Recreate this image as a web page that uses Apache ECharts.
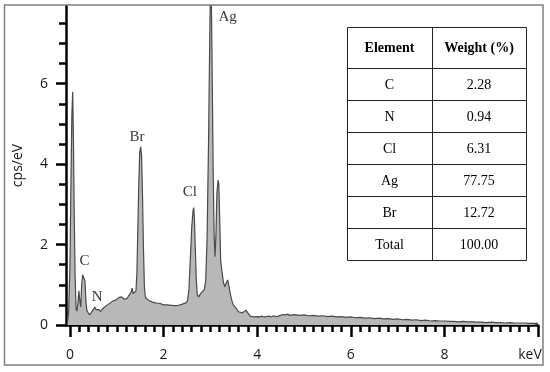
<!DOCTYPE html>
<html>
<head>
<meta charset="utf-8">
<script src="https://cdn.jsdelivr.net/npm/echarts@6/dist/echarts.min.js"></script>
<style>
html,body{margin:0;padding:0;background:#fff;}
#chart{width:550px;height:372px;}
</style>
</head>
<body>
<div id="chart"></div>
<script>
// ---- data ----
const keV = [
 -0.06,-0.03,0.0,0.02,0.04,0.058,0.075,0.09,0.11,0.13,0.15,0.17,0.19,0.21,0.23,0.25,0.27,0.30,0.32,0.34,
 0.36,0.39,0.42,0.45,0.48,0.51,0.53,0.56,0.59,0.62,0.65,0.68,0.71,0.74,0.77,0.80,0.83,0.86,0.89,0.92,
 0.95,0.98,1.01,1.04,1.07,1.10,1.13,1.16,1.19,1.22,1.25,1.28,1.31,1.33,1.35,1.38,1.41,1.43,1.45,1.47,
 1.49,1.51,1.53,1.55,1.57,1.59,1.61,1.64,1.67,1.70,1.73,1.76,1.79,1.82,1.85,1.88,1.91,1.94,1.97,2.00,
 2.04,2.08,2.12,2.16,2.20,2.24,2.28,2.32,2.36,2.40,2.44,2.48,2.51,2.54,2.57,2.60,2.63,2.645,2.66,2.68,
 2.70,2.72,2.75,2.79,2.83,2.87,2.90,2.93,2.96,2.99,3.01,3.03,3.06,3.08,3.10,3.12,3.14,3.165,3.18,3.20,
 3.22,3.25,3.28,3.31,3.34,3.37,3.40,3.43,3.46,3.49,3.52,3.56,3.60,3.64,3.68,3.72,3.76,3.80,3.85,3.90,
 3.95,4.00,4.05,4.10,4.15,4.20,4.25,4.30,4.35,4.40,4.45,4.50,4.55,4.60,4.65,4.70,4.75,
 4.8,4.9,5.0,5.1,5.2,5.3,5.4,5.5,5.6,5.7,5.8,5.9,6.0,6.1,6.2,6.3,6.4,6.5,6.6,6.7,6.8,6.9,7.0,7.1,7.2,
 7.3,7.4,7.5,7.6,7.7,7.8,7.9,8.0,8.1,8.2,8.3,8.4,8.5,8.6,8.7,8.8,8.9,9.0,9.1,9.2,9.3,9.4,9.5,9.6,9.7,
 9.8,9.9,10.0
];
const cps = [
 0,0.3,1.5,3.5,5.2,5.8,4.5,2.8,1.2,0.4,0.35,0.55,0.85,0.6,0.45,1.0,1.25,1.27,1.1,0.6,
 0.37,0.3,0.25,0.3,0.28,0.4,0.45,0.38,0.35,0.38,0.33,0.38,0.4,0.45,0.43,0.5,0.48,0.55,0.52,0.6,
 0.58,0.62,0.6,0.68,0.65,0.7,0.66,0.64,0.68,0.66,0.72,0.7,0.82,0.92,0.78,0.75,0.85,1.3,2.4,3.5,
 4.3,4.43,4.2,3.2,1.9,0.95,0.7,0.65,0.68,0.6,0.62,0.57,0.6,0.55,0.58,0.54,0.57,0.53,0.55,0.5,
 0.54,0.5,0.53,0.49,0.52,0.48,0.51,0.49,0.5,0.52,0.5,0.55,0.6,0.85,1.6,2.4,2.85,2.92,2.6,1.8,
 1.1,0.75,0.7,0.78,0.82,0.88,1.1,2.2,4.5,7.5,9.0,7.2,3.8,2.2,1.7,2.3,3.3,3.6,3.5,2.6,
 1.6,1.3,1.05,0.95,1.05,1.12,0.95,0.75,0.6,0.5,0.48,0.4,0.33,0.29,0.3,0.33,0.37,0.3,0.22,0.21,
 0.2,0.21,0.2,0.22,0.2,0.21,0.22,0.2,0.23,0.21,0.22,0.24,0.26,0.25,0.27,0.24,0.25,
 0.26,0.24,0.25,0.23,0.24,0.22,0.23,0.21,0.22,0.2,0.21,0.19,0.2,0.18,0.19,0.17,0.18,0.16,0.17,0.15,0.16,0.14,0.15,0.13,0.14,
 0.12,0.13,0.11,0.12,0.1,0.11,0.1,0.1,0.09,0.09,0.08,0.09,0.08,0.08,0.07,0.07,0.06,0.07,0.06,0.06,0.05,0.06,0.05,0.05,0.05,
 0.04,0.04,0.04
];
const peakNames = ['C', 'N', 'Br', 'Cl', 'Ag'];
const peakKeV   = [0.31, 0.58, 1.43, 2.56, 3.37];
const peakCps   = [1.59, 0.70, 4.67, 3.30, 7.65];

const xTickLabels = [0, 2, 4, 6, 8];
const xMajorTicks = [0, 2, 4, 6, 8, 10];
const yTickLabels = [0, 2, 4, 6];

const tableHeader   = ['Element', 'Weight (%)'];
const tableElements = ['C', 'N', 'Cl', 'Ag', 'Br', 'Total'];
const tableWeights  = ['2.28', '0.94', '6.31', '77.75', '12.72', '100.00'];

// ---- build ----
const xMinorTicks = [];
for (let i = 1; i < 50; i++) { if (i % 10 !== 0) xMinorTicks.push(+(i * 0.2).toFixed(1)); }
const yMinorTicks = [];
for (let i = 1; i <= 15; i++) { if (i % 4 !== 0) yMinorTicks.push(i * 0.5); }

const X_MIN = -0.085, X_MAX = 10, Y_MIN = 0, Y_MAX = 7.93;
const axisFont = 'Open Sans';
const serif = 'Liberation Serif';
const txt = '#1a1a1a';

function xAx(ticks, len, labels) {
  return {
    type: 'value', min: X_MIN, max: X_MAX, position: 'bottom',
    axisLine: { show: !!labels, onZero: false, lineStyle: { color: '#000', width: 2.5 } },
    axisTick: { show: true, customValues: ticks, length: len, lineStyle: { color: '#000', width: 2.5 } },
    axisLabel: labels ? { show: true, customValues: labels, margin: 23, fontSize: 14, color: txt, fontFamily: axisFont } : { show: false },
    splitLine: { show: false }
  };
}
function yAx(ticks, len, labels) {
  const a = {
    type: 'value', min: Y_MIN, max: Y_MAX, position: 'left',
    axisLine: { show: !!labels, onZero: false, lineStyle: { color: '#000', width: 2.5 } },
    axisTick: { show: true, customValues: ticks, length: len, lineStyle: { color: '#000', width: 2.5 } },
    axisLabel: labels ? { show: true, customValues: labels, margin: 18, fontSize: 14, color: txt, fontFamily: axisFont } : { show: false },
    splitLine: { show: false }
  };
  if (labels) {
    a.name = 'cps/eV';
    a.nameLocation = 'middle';
    a.nameGap = 41;
    a.nameTextStyle = { fontSize: 14, color: txt, fontFamily: axisFont };
  }
  return a;
}

// table graphics
const tLeft = 347, tTop = 27, colW = [85, 94], headH = 41, rowH = 32;
const tW = colW[0] + colW[1];
const tH = headH + rowH * tableElements.length;
const tableGraphics = [];
tableGraphics.push({ type: 'rect', shape: { x: tLeft + 0.5, y: tTop + 0.5, width: tW, height: tH }, style: { fill: '#fff', stroke: '#222', lineWidth: 1 }, z: 10 });
tableGraphics.push({ type: 'line', shape: { x1: tLeft + colW[0] + 0.5, y1: tTop, x2: tLeft + colW[0] + 0.5, y2: tTop + tH }, style: { stroke: '#222', lineWidth: 1 }, z: 11 });
for (let i = 0; i < tableElements.length; i++) {
  const y = tTop + headH + i * rowH + 0.5;
  tableGraphics.push({ type: 'line', shape: { x1: tLeft, y1: y, x2: tLeft + tW, y2: y }, style: { stroke: '#222', lineWidth: 1 }, z: 11 });
}
tableHeader.forEach((h, c) => {
  tableGraphics.push({ type: 'text', x: tLeft + (c === 0 ? colW[0] / 2 : colW[0] + colW[1] / 2), y: tTop + headH / 2 + 1,
    style: { text: h, fontFamily: serif, fontWeight: 'bold', fontSize: 14, fill: '#000', align: 'center', verticalAlign: 'middle' }, z: 12 });
});
tableElements.forEach((e, i) => {
  const cy = tTop + headH + i * rowH + rowH / 2 + 1;
  tableGraphics.push({ type: 'text', x: tLeft + colW[0] / 2, y: cy,
    style: { text: e, fontFamily: serif, fontSize: 14, fill: '#000', align: 'center', verticalAlign: 'middle' }, z: 12 });
  tableGraphics.push({ type: 'text', x: tLeft + colW[0] + colW[1] / 2, y: cy,
    style: { text: tableWeights[i], fontFamily: serif, fontSize: 14, fill: '#000', align: 'center', verticalAlign: 'middle' }, z: 12 });
});

const option = {
  animation: false,
  backgroundColor: '#fff',
  grid: { left: 66, right: 12, top: 6, bottom: 47, containLabel: false },
  xAxis: [ xAx(xMajorTicks, 12, xTickLabels), xAx(xMinorTicks, 7, null) ],
  yAxis: [ yAx(yTickLabels, 10, yTickLabels), yAx(yMinorTicks, 7, null) ],
  graphic: [
    { type: 'rect', shape: { x: 4.5, y: 5, width: 538.5, height: 360 }, style: { fill: 'none', stroke: '#808080', lineWidth: 1.5 }, z: 1 },
    { type: 'text', x: 530, y: 355, style: { text: 'keV', fontFamily: axisFont, fontSize: 14, fill: txt, align: 'center', verticalAlign: 'middle' }, z: 5 }
  ].concat(tableGraphics),
  series: [
    {
      type: 'line', xAxisIndex: 0, yAxisIndex: 0,
      data: keV.map((x, i) => [x, cps[i]]),
      symbol: 'none', clip: true,
      lineStyle: { color: '#4a4a4a', width: 1.2 },
      areaStyle: { color: '#b8b8b8', opacity: 1 },
      z: 2
    },
    {
      type: 'scatter', xAxisIndex: 0, yAxisIndex: 0,
      data: peakNames.map((n, i) => [peakKeV[i], peakCps[i], n]),
      symbolSize: 1,
      itemStyle: { color: 'transparent' },
      label: { show: true, position: 'inside', formatter: p => p.value[2], fontFamily: serif, fontSize: 15, color: '#000' },
      z: 4
    }
  ]
};
echarts.init(document.getElementById('chart'), null, { renderer: 'canvas' }).setOption(option);
</script>
</body>
</html>
